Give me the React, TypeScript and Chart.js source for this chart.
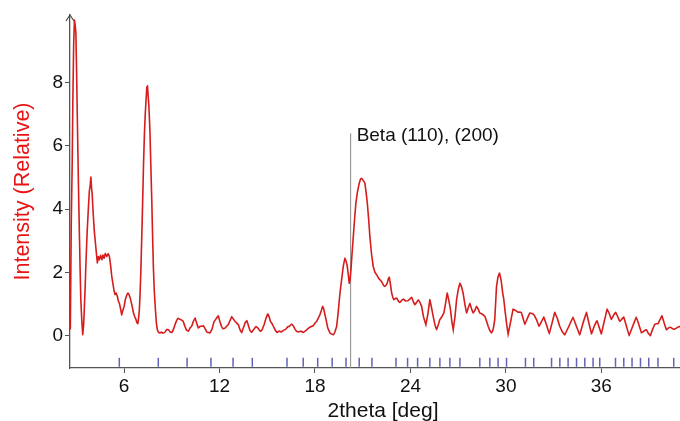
import { useEffect, useRef } from 'react';
import { Chart, registerables } from 'chart.js';

Chart.register(...registerables);

// ---- data ----
const twoTheta = [
  2.62, 2.68, 2.74, 2.78, 2.83, 2.88, 2.93, 2.97, 3.02, 3.07, 3.13, 3.19, 3.24, 3.28, 3.34, 3.40, 3.45, 3.49, 3.55, 3.61,
  3.68, 3.76, 3.82, 3.87, 3.91, 3.95, 3.99, 4.07, 4.13, 4.20, 4.26, 4.32, 4.38, 4.45, 4.52, 4.60, 4.67, 4.74, 4.82, 4.91,
  5.00, 5.08, 5.16, 5.22, 5.29, 5.36, 5.43, 5.50, 5.58, 5.64, 5.70, 5.78, 5.85, 5.92, 6.00, 6.08, 6.17, 6.24, 6.31, 6.38,
  6.44, 6.52, 6.59, 6.67, 6.75, 6.80, 6.86, 6.91, 6.96, 7.01, 7.05, 7.11, 7.17, 7.22, 7.28, 7.33, 7.38, 7.43, 7.47, 7.51,
  7.55, 7.59, 7.63, 7.68, 7.74, 7.79, 7.84, 7.90, 7.97, 8.03, 8.09, 8.17, 8.26, 8.35, 8.45, 8.58, 8.68, 8.79, 8.89, 9.00,
  9.10, 9.20, 9.30, 9.41, 9.50, 9.60, 9.72, 9.82, 9.92, 10.04, 10.15, 10.25, 10.35, 10.46, 10.56, 10.67, 10.78, 10.88, 10.98, 11.10,
  11.20, 11.30, 11.40, 11.52, 11.65, 11.80, 11.92, 12.02, 12.12, 12.22, 12.34, 12.45, 12.55, 12.66, 12.77, 12.88, 12.98, 13.08, 13.18, 13.28,
  13.39, 13.50, 13.60, 13.71, 13.80, 13.90, 14.02, 14.15, 14.29, 14.40, 14.50, 14.59, 14.70, 14.80, 14.92, 15.03, 15.13, 15.20, 15.28, 15.38,
  15.50, 15.63, 15.75, 15.88, 16.01, 16.15, 16.28, 16.40, 16.53, 16.65, 16.75, 16.85, 16.98, 17.12, 17.26, 17.40, 17.55, 17.68, 17.80, 17.90,
  18.00, 18.10, 18.20, 18.30, 18.40, 18.48, 18.55, 18.62, 18.70, 18.80, 18.94, 19.05, 19.15, 19.25, 19.36, 19.45, 19.57, 19.68, 19.78, 19.88,
  19.96, 20.03, 20.10, 20.15, 20.20, 20.26, 20.33, 20.41, 20.49, 20.57, 20.67, 20.78, 20.86, 20.93, 21.02, 21.14, 21.22, 21.29, 21.37, 21.45,
  21.55, 21.66, 21.77, 21.87, 22.00, 22.10, 22.19, 22.30, 22.39, 22.47, 22.54, 22.61, 22.67, 22.75, 22.82, 22.90, 22.96, 23.05, 23.13, 23.24,
  23.34, 23.45, 23.55, 23.70, 23.86, 23.96, 24.07, 24.18, 24.28, 24.38, 24.49, 24.60, 24.70, 24.82, 24.97, 25.10, 25.22, 25.32, 25.43, 25.54,
  25.64, 25.75, 25.85, 25.97, 26.10, 26.20, 26.31, 26.42, 26.52, 26.60, 26.69, 26.80, 26.90, 27.00, 27.11, 27.21, 27.31, 27.42, 27.53, 27.63,
  27.73, 27.84, 27.94, 28.05, 28.15, 28.25, 28.36, 28.52, 28.68, 28.79, 28.89, 29.00, 29.10, 29.20, 29.30, 29.41, 29.50, 29.60, 29.70, 29.80,
  29.87, 29.94, 30.04, 30.14, 30.30, 30.45, 30.60, 30.77, 30.88, 30.98, 31.08, 31.19, 31.35, 31.50, 31.64, 31.77, 31.93, 32.09, 32.24, 32.38,
  32.55, 32.72, 32.90, 33.07, 33.23, 33.39, 33.55, 33.70, 33.96, 34.22, 34.43, 34.64, 34.85, 35.06, 35.22, 35.38, 35.55, 35.73, 35.87, 36.00,
  36.18, 36.36, 36.50, 36.63, 36.77, 36.90, 37.03, 37.16, 37.28, 37.41, 37.58, 37.74, 37.97, 38.20, 38.36, 38.52, 38.68, 38.83, 38.95, 39.08,
  39.22, 39.35, 39.45, 39.56, 39.68, 39.81, 39.95, 40.09, 40.20, 40.34, 40.48, 40.61, 40.75, 40.92, 41.10, 41.30,
];

const intensity = [
  0.2, 3.6, 5.5, 7.45, 9.2, 9.98, 9.8, 9.57, 8.2, 6.6, 4.8, 3.25, 2.0, 1.14, 0.5, 0.03, 0.3, 0.72, 1.5, 2.4,
  3.3, 4.08, 4.6, 4.75, 5.03, 4.7, 4.5, 3.77, 3.3, 2.93, 2.6, 2.3, 2.5, 2.4, 2.55, 2.4, 2.55, 2.45, 2.6, 2.5,
  2.6, 2.5, 2.19, 1.9, 1.67, 1.45, 1.3, 1.35, 1.24, 1.1, 1.03, 0.85, 0.66, 0.8, 0.92, 1.15, 1.29, 1.35, 1.3, 1.2,
  1.08, 0.9, 0.72, 0.6, 0.51, 0.42, 0.38, 0.55, 0.82, 1.4, 1.98, 3.1, 4.29, 5.4, 6.4, 7.0, 7.45, 7.85, 7.9, 7.6,
  7.34, 6.9, 6.4, 5.4, 4.29, 3.2, 2.19, 1.4, 0.82, 0.4, 0.19, 0.1, 0.09, 0.12, 0.08, 0.12, 0.2, 0.19, 0.12, 0.1,
  0.2, 0.35, 0.48, 0.55, 0.52, 0.5, 0.45, 0.3, 0.18, 0.14, 0.25, 0.3, 0.45, 0.56, 0.4, 0.24, 0.3, 0.3, 0.32, 0.22,
  0.12, 0.1, 0.09, 0.2, 0.44, 0.55, 0.63, 0.45, 0.3, 0.22, 0.24, 0.3, 0.35, 0.48, 0.61, 0.52, 0.45, 0.4, 0.35, 0.2,
  0.09, 0.25, 0.4, 0.48, 0.35, 0.18, 0.1, 0.2, 0.29, 0.25, 0.18, 0.14, 0.22, 0.35, 0.55, 0.69, 0.58, 0.45, 0.4, 0.3,
  0.18, 0.1, 0.15, 0.12, 0.17, 0.2, 0.28, 0.3, 0.37, 0.3, 0.2, 0.14, 0.12, 0.15, 0.1, 0.15, 0.22, 0.27, 0.3, 0.32,
  0.4, 0.45, 0.55, 0.65, 0.8, 0.93, 0.85, 0.68, 0.5, 0.25, 0.09, 0.05, 0.03, 0.12, 0.29, 0.7, 1.35, 1.8, 2.2, 2.45,
  2.35, 2.19, 1.9, 1.66, 1.75, 2.08, 2.6, 3.14, 3.7, 4.19, 4.55, 4.82, 4.95, 4.98, 4.92, 4.82, 4.5, 4.19, 3.7, 3.14,
  2.6, 2.19, 2.0, 1.93, 1.82, 1.76, 1.71, 1.6, 1.56, 1.6, 1.66, 1.8, 1.85, 1.6, 1.35, 1.2, 1.14, 1.18, 1.19, 1.1,
  1.05, 1.12, 1.16, 1.1, 1.11, 1.16, 1.22, 1.08, 0.98, 1.05, 1.14, 1.05, 0.93, 0.6, 0.35, 0.7, 1.14, 0.9, 0.61, 0.35,
  0.19, 0.35, 0.51, 0.6, 0.72, 1.0, 1.35, 1.1, 0.82, 0.45, 0.19, 0.6, 1.14, 1.45, 1.66, 1.55, 1.35, 1.0, 0.72, 0.88,
  1.03, 0.85, 0.72, 0.8, 0.93, 0.85, 0.72, 0.68, 0.61, 0.45, 0.29, 0.15, 0.09, 0.2, 0.51, 1.56, 1.85, 1.98, 1.75, 1.35,
  1.14, 0.82, 0.4, 0.05, 0.45, 0.84, 0.8, 0.74, 0.75, 0.72, 0.55, 0.35, 0.55, 0.72, 0.7, 0.66, 0.5, 0.29, 0.45, 0.59,
  0.35, 0.06, 0.4, 0.74, 0.55, 0.29, 0.12, 0.03, 0.3, 0.59, 0.3, 0.03, 0.4, 0.74, 0.4, 0.06, 0.3, 0.48, 0.25, 0.06,
  0.45, 0.84, 0.7, 0.51, 0.65, 0.74, 0.6, 0.45, 0.52, 0.59, 0.3, 0.0, 0.3, 0.59, 0.35, 0.09, 0.15, 0.19, 0.08, 0.0,
  0.2, 0.35, 0.38, 0.38, 0.5, 0.63, 0.4, 0.19, 0.24, 0.27, 0.22, 0.21, 0.25, 0.29, 0.27, 0.25,
];

// reference reflection positions (blue markers)
const reflections = [
  5.70, 8.15, 9.96, 11.46, 12.85, 14.06, 16.24, 17.26, 18.17, 19.08, 19.95, 20.78, 21.58,
  23.09, 23.82, 24.45, 25.22, 25.85, 26.48, 27.11, 28.36, 28.99, 29.51, 30.04, 31.23, 31.75,
  32.87, 33.39, 33.91, 34.44, 34.96, 35.48, 35.90, 36.89, 37.41, 37.93, 38.46, 38.98, 39.56, 40.55,
];
const reflectionLevel = -0.84;

const xTicks = [6, 12, 18, 24, 30, 36];
const yTicks = [0, 2, 4, 6, 8];

const betaPosition = 20.24;
const betaTop = 6.4;
const betaLabel = 'Beta (110), (200)';

const xTitle = '2theta [deg]';
const yTitle = 'Intensity (Relative)';

const X_MIN = 2.6;
const X_MAX = 41.95;
const Y_MIN = -1.02;
const Y_MAX = 10.14;

const FONT = '"Liberation Sans", Arial, Helvetica, sans-serif';

export default function App() {
  const ref = useRef<HTMLCanvasElement | null>(null);

  useEffect(() => {
    const canvas = ref.current;
    if (!canvas) return;

    const decorations = {
      id: 'decorations',
      afterDatasetsDraw(chart: any) {
        const { ctx, chartArea, scales } = chart;
        const xs = scales.x;
        const ys = scales.y;
        // arrow at top of y axis
        ctx.save();
        ctx.strokeStyle = '#444';
        ctx.lineWidth = 1.2;
        ctx.beginPath();
        ctx.moveTo(chartArea.left - 4, chartArea.top + 6);
        ctx.lineTo(chartArea.left, chartArea.top);
        ctx.lineTo(chartArea.left + 4, chartArea.top + 6);
        ctx.stroke();
        // beta annotation label
        ctx.fillStyle = '#111';
        ctx.font = `19px ${FONT}`;
        ctx.textBaseline = 'alphabetic';
        ctx.textAlign = 'left';
        ctx.fillText(betaLabel, xs.getPixelForValue(betaPosition) + 6, ys.getPixelForValue(betaTop) + 8);
        ctx.restore();
      },
    };

    const chart = new Chart(canvas, {
      type: 'line',
      data: {
        datasets: [
          {
            type: 'line',
            data: twoTheta.map((x, i) => ({ x, y: intensity[i] })),
            borderColor: '#d61c1c',
            borderWidth: 1.6,
            pointRadius: 0,
            tension: 0.01,
            fill: false,
            order: 1,
          },
          {
            type: 'line',
            data: [
              { x: betaPosition, y: Y_MIN },
              { x: betaPosition, y: betaTop },
            ],
            borderColor: '#8a8a8a',
            borderWidth: 1,
            pointRadius: 0,
            fill: false,
            order: 2,
          },
          {
            type: 'scatter',
            data: reflections.map((x) => ({ x, y: reflectionLevel })),
            pointStyle: 'line',
            rotation: 90,
            radius: 4.5,
            borderColor: '#6262bc',
            backgroundColor: '#6262bc',
            borderWidth: 1.5,
            order: 3,
          } as any,
        ],
      },
      options: {
        responsive: false,
        animation: false,
        devicePixelRatio: 1,
        layout: { autoPadding: false, padding: { top: 15, left: 0, right: 0, bottom: 0 } },
        plugins: {
          legend: { display: false },
          tooltip: { enabled: false },
        },
        scales: {
          x: {
            type: 'linear',
            min: X_MIN,
            max: X_MAX,
            afterBuildTicks: (s: any) => {
              s.ticks = xTicks.map((v) => ({ value: v }));
            },
            afterFit: (s: any) => {
              s.height = 53;
            },
            grid: { display: true, drawOnChartArea: false, drawTicks: true, tickLength: 5, color: '#555', lineWidth: 1 },
            border: { display: true, color: '#555', width: 1.3 },
            ticks: { color: '#111', font: { family: FONT, size: 19 }, padding: 2, maxRotation: 0, autoSkip: false },
            title: { display: true, text: xTitle, color: '#111', font: { family: FONT, size: 21, lineHeight: 0.9 }, padding: 0 },
          },
          y: {
            type: 'linear',
            min: Y_MIN,
            max: Y_MAX,
            afterBuildTicks: (s: any) => {
              s.ticks = yTicks.map((v) => ({ value: v }));
            },
            afterFit: (s: any) => {
              s.width = 70;
            },
            grid: { display: true, drawOnChartArea: false, drawTicks: true, tickLength: 5, color: '#555', lineWidth: 1 },
            border: { display: true, color: '#555', width: 1.3 },
            ticks: { color: '#111', font: { family: FONT, size: 19 }, padding: 2 },
            title: { display: true, text: yTitle, color: '#e81414', font: { family: FONT, size: 21.5, lineHeight: 1 }, padding: { top: 12, bottom: 0 } },
          },
        },
      },
      plugins: [decorations],
    } as any);

    return () => chart.destroy();
  }, []);

  return (
    <div style={{ position: 'fixed', left: 0, top: 0, width: 680, height: 421, overflow: 'hidden', background: '#fff' }}>
      <canvas ref={ref} width={696} height={421} style={{ display: 'block', width: 696, height: 421 }} />
    </div>
  );
}
